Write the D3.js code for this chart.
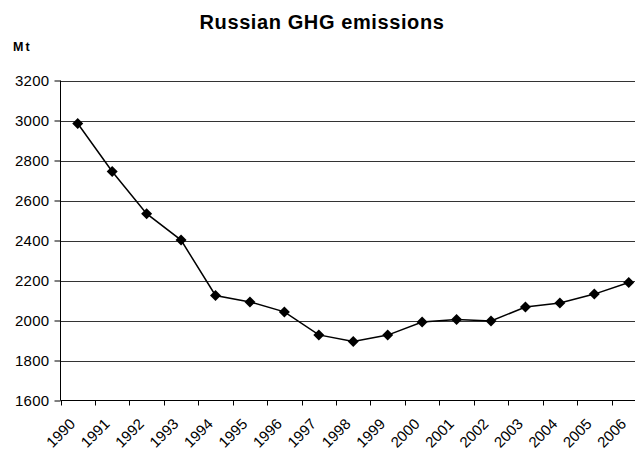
<!DOCTYPE html>
<html>
<head>
<meta charset="utf-8">
<script src="https://cdn.jsdelivr.net/npm/d3@7"></script>
<style>
  body { margin: 0; background: #fff; }
  svg { display: block; font-family: Arial, 'Liberation Sans', sans-serif; }
</style>
</head>
<body>
<svg id="chart" width="635" height="450"></svg>
<script>
const years = ['1990', '1991', '1992', '1993', '1994', '1995', '1996', '1997', '1998',
  '1999', '2000', '2001', '2002', '2003', '2004', '2005', '2006'];
const emissions = [2985, 2745, 2534, 2402, 2125, 2093, 2043, 1928, 1895,
  1927, 1992, 2005, 1998, 2067, 2087, 2132, 2190];
const yTicks = [1600, 1800, 2000, 2200, 2400, 2600, 2800, 3000, 3200];

const svg = d3.select('#chart');

// plot area runs a little past the right edge, as in the original
const plotLeft = 60.5, plotRight = 646, plotTop = 80.5, plotBottom = 400.5;

const x = d3.scaleBand().domain(years).range([plotLeft, plotRight]);
const y = d3.scaleLinear().domain([1600, 3200]).range([plotBottom, plotTop]);

svg.append('text')
  .attr('x', 322)
  .attr('y', 29)
  .attr('text-anchor', 'middle')
  .style('font-size', '20px')
  .style('font-weight', 'bold')
  .style('letter-spacing', '0.6px')
  .text('Russian GHG emissions');

svg.append('text')
  .attr('x', 13)
  .attr('y', 51)
  .style('font-size', '12.5px')
  .style('font-weight', 'bold')
  .style('letter-spacing', '2px')
  .text('Mt');

// gridlines
svg.append('g')
  .selectAll('line')
  .data(yTicks.filter((d) => d > 1600))
  .enter()
  .append('line')
  .attr('x1', plotLeft)
  .attr('x2', plotRight)
  .attr('y1', (d) => Math.round(y(d)) + 0.5)
  .attr('y2', (d) => Math.round(y(d)) + 0.5)
  .attr('stroke', '#333')
  .attr('stroke-width', 1);

// y axis
const yAxis = svg.append('g')
  .attr('transform', `translate(${plotLeft},0)`)
  .call(d3.axisLeft(y).tickValues(yTicks).tickSize(6).tickPadding(5).tickFormat(d3.format('d')));
yAxis.selectAll('text').style('font-size', '15px').style('letter-spacing', '0.3px').attr('fill', '#000');
yAxis.selectAll('line, path').attr('stroke', '#000');
yAxis.select('.domain').attr('d', `M0,${plotTop}V${plotBottom}`);

// x axis with ticks between categories
const xAxisG = svg.append('g').attr('transform', `translate(0,${plotBottom})`);
xAxisG.append('line')
  .attr('x1', plotLeft).attr('x2', plotRight)
  .attr('stroke', '#000');
xAxisG.selectAll('.tick')
  .data(years.concat(['end']))
  .enter()
  .append('line')
  .attr('x1', (d, i) => Math.round(plotLeft + i * x.step()) + 0.5)
  .attr('x2', (d, i) => Math.round(plotLeft + i * x.step()) + 0.5)
  .attr('y1', 0)
  .attr('y2', 5)
  .attr('stroke', '#000');

xAxisG.selectAll('.xlabel')
  .data(years)
  .enter()
  .append('text')
  .attr('class', 'xlabel')
  .attr('text-anchor', 'end')
  .attr('transform', (d) => `translate(${x(d) + x.bandwidth() / 2 - 9},${17}) rotate(-45)`)
  .attr('dy', '0.7em')
  .style('font-size', '15px')
  .text((d) => d);

// series
const pts = years.map((d, i) => ({ year: d, value: emissions[i] }));

svg.append('path')
  .datum(pts)
  .attr('fill', 'none')
  .attr('stroke', '#000')
  .attr('stroke-width', 1.5)
  .attr('d', d3.line()
    .x((d) => x(d.year) + x.bandwidth() / 2)
    .y((d) => y(d.value)));

svg.append('g')
  .selectAll('path')
  .data(pts)
  .enter()
  .append('path')
  .attr('d', 'M0,-5.5L5.5,0L0,5.5L-5.5,0Z')
  .attr('transform', (d) => `translate(${x(d.year) + x.bandwidth() / 2},${y(d.value)})`)
  .attr('fill', '#000');
</script>
</body>
</html>
